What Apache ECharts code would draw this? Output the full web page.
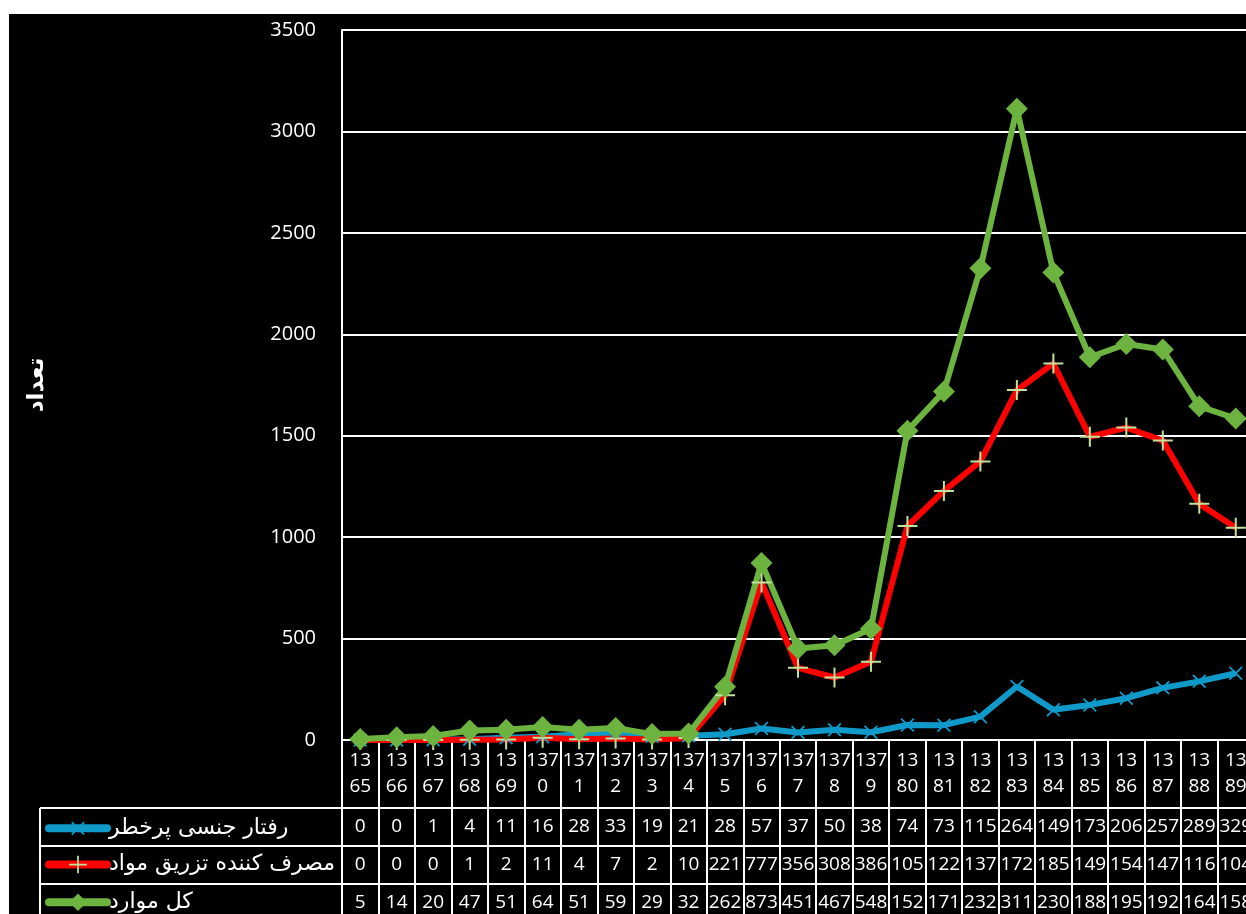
<!DOCTYPE html>
<html>
<head>
<meta charset="utf-8">
<script src="https://cdn.jsdelivr.net/npm/echarts@6/dist/echarts.min.js"></script>
<style>
  html, body { margin: 0; padding: 0; background: #ffffff; width: 1246px; height: 914px; overflow: hidden; }
  #bg { position: absolute; left: 9px; top: 14px; right: 0; bottom: 0; background: #000000; }
  #chart { position: absolute; left: 0; top: 0; width: 1246px; height: 914px; }
</style>
</head>
<body>
<div id="bg"></div>
<div id="chart"></div>
<script>
// ---- data ----
const years = ['1365','1366','1367','1368','1369','1370','1371','1372','1373','1374','1375','1376','1377','1378','1379','1380','1381','1382','1383','1384','1385','1386','1387','1388','1389'];
const seriesNames = ['رفتار جنسی پرخطر', 'مصرف کننده تزریق مواد', 'کل موارد'];
const riskySex = [0,0,1,4,11,16,28,33,19,21,28,57,37,50,38,74,73,115,264,149,173,206,257,289,329];
const injection = [0,0,0,1,2,11,4,7,2,10,221,777,356,308,386,1055,1228,1373,1725,1856,1495,1540,1476,1164,1046];
const total = [5,14,20,47,51,64,51,59,29,32,262,873,451,467,548,1525,1718,2325,3112,2305,1887,1952,1925,1645,1585];
const yTicks = { min: 0, max: 3500, interval: 500 };
const yTitle = 'تعداد';

// ---- styles ----
const WHITE = '#ffffff';
const BLUE = '#0f9aca';
const RED = '#ff0000';
const GREEN = '#6db33f';
const PLUSC = '#bfe39a';
const FONT = 'Open Sans';
const PLUS = 'path://M9,0H11V9H20V11H11V20H9V11H0V9H9Z';
const whiteLine = { show: true, lineStyle: { color: WHITE, width: 2 } };
const PLOT_W = 912;
const ROW_TOP = 808, ROW_H = 37.7;

const chart = echarts.init(document.getElementById('chart'), null, { renderer: 'canvas' });

function rowAxis(values, margin) {
  return {
    type: 'category', gridIndex: 1, position: 'top', data: values.map(String),
    boundaryGap: true,
    axisLine: { show: false }, axisTick: { show: false }, splitLine: { show: false },
    axisLabel: {
      inside: true, interval: 0, margin: margin, verticalAlign: 'middle',
      color: WHITE, fontFamily: FONT, fontSize: 19,
      width: 36, overflow: 'truncate', ellipsis: '', hideOverlap: false
    }
  };
}

function legendRow(i) {
  return {
    orient: 'horizontal', left: 45, top: ROW_TOP + ROW_H * i + ROW_H / 2 - 11, padding: 0,
    itemWidth: 58, itemHeight: 22,
    data: [seriesNames[i]],
    textStyle: { color: WHITE, fontFamily: 'DejaVu Sans', fontSize: 22, lineHeight: 22, padding: [0, 0, 0, -3] },
    lineStyle: { width: 8, cap: 'round' }
  };
}

chart.setOption({
  backgroundColor: 'transparent',
  animation: false,
  textStyle: { fontFamily: FONT },
  grid: [
    { left: 342, width: PLOT_W, top: 30, height: 710, outerBoundsMode: 'none' },
    { left: 342, width: PLOT_W, top: ROW_TOP, height: ROW_H * 3, outerBoundsMode: 'none' },
    { left: 40, width: 302, top: ROW_TOP, height: ROW_H * 3, outerBoundsMode: 'none' }
  ],
  legend: [legendRow(0), legendRow(1), legendRow(2)],
  xAxis: [
    {
      type: 'category', gridIndex: 0, data: years, boundaryGap: true,
      axisLine: whiteLine,
      axisTick: { show: true, length: 68, lineStyle: { color: WHITE, width: 2 } },
      splitLine: { show: false },
      axisLabel: {
        interval: 0, margin: 8, color: WHITE, fontFamily: FONT, fontSize: 19, lineHeight: 26,
        formatter: v => { const k = v[2] === '7' ? 3 : 2; return v.slice(0, k) + '\n' + v.slice(k); }
      }
    },
    {
      type: 'category', gridIndex: 1, data: years, boundaryGap: true,
      axisLine: { show: false }, axisTick: { show: false }, axisLabel: { show: false },
      splitLine: whiteLine
    },
    rowAxis(riskySex, ROW_H * 0.5),
    rowAxis(injection, ROW_H * 1.5),
    rowAxis(total, ROW_H * 2.5),
    {
      type: 'value', gridIndex: 2, min: 0, max: 1, interval: 1,
      axisLine: { show: false }, axisTick: { show: false }, axisLabel: { show: false },
      splitLine: whiteLine
    }
  ],
  yAxis: [
    {
      type: 'value', gridIndex: 0, min: yTicks.min, max: yTicks.max, interval: yTicks.interval,
      axisLine: whiteLine, axisTick: { show: false },
      splitLine: whiteLine,
      axisLabel: { color: WHITE, fontFamily: FONT, fontSize: 20, margin: 26, formatter: v => String(v) },
      name: yTitle, nameLocation: 'middle', nameRotate: 90, nameGap: 293,
      nameTextStyle: { color: WHITE, fontFamily: 'DejaVu Sans', fontWeight: 'bold', fontSize: 23 }
    },
    {
      type: 'value', gridIndex: 1, min: 0, max: 3, interval: 1, inverse: true,
      axisLine: { show: false }, axisTick: { show: false }, axisLabel: { show: false },
      splitLine: whiteLine
    },
    {
      type: 'value', gridIndex: 2, min: 0, max: 3, interval: 1, inverse: true,
      axisLine: { show: false }, axisTick: { show: false }, axisLabel: { show: false },
      splitLine: whiteLine
    }
  ],
  series: [
    {
      name: seriesNames[0], type: 'line', xAxisIndex: 0, yAxisIndex: 0, data: riskySex,
      lineStyle: { color: BLUE, width: 6 }, itemStyle: { color: BLUE },
      symbol: PLUS, symbolSize: 18, symbolRotate: 45, showAllSymbol: true
    },
    {
      name: seriesNames[1], type: 'line', xAxisIndex: 0, yAxisIndex: 0, data: injection,
      lineStyle: { color: RED, width: 6 }, itemStyle: { color: PLUSC },
      symbol: PLUS, symbolSize: 20, showAllSymbol: true
    },
    {
      name: seriesNames[2], type: 'line', xAxisIndex: 0, yAxisIndex: 0, data: total,
      lineStyle: { color: GREEN, width: 6 }, itemStyle: { color: GREEN },
      symbol: 'diamond', symbolSize: 22, showAllSymbol: true
    }
  ]
});
</script>
</body>
</html>
